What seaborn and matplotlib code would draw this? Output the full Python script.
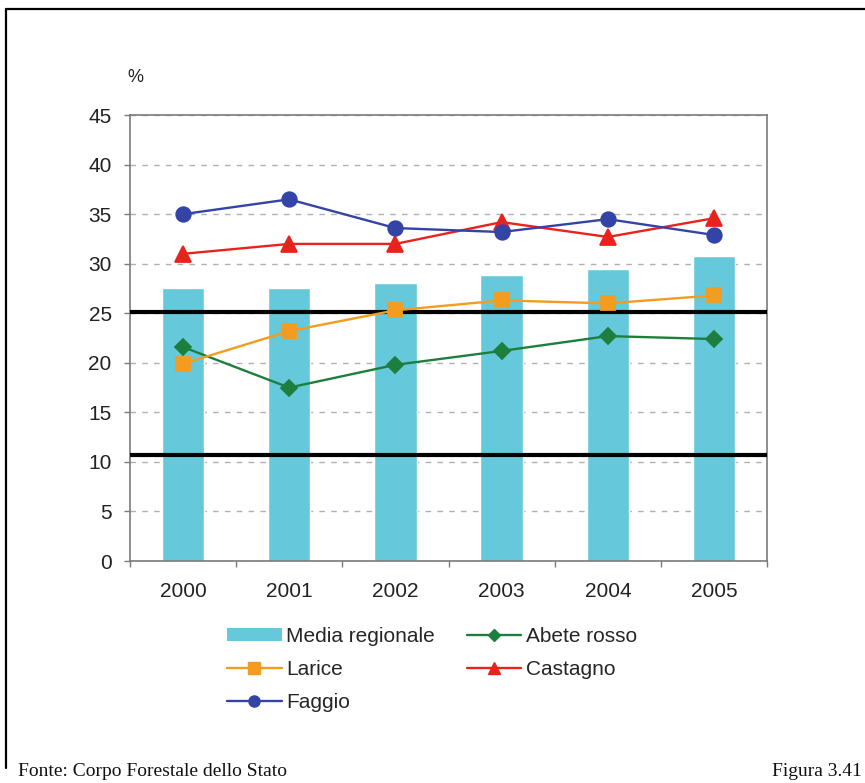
import numpy as np
import pandas as pd
import matplotlib
matplotlib.use("Agg")
import matplotlib.pyplot as plt
from matplotlib.lines import Line2D
from matplotlib.patches import Patch
import seaborn as sns

# Percentuali per anno
years = ["2000", "2001", "2002", "2003", "2004", "2005"]
media_regionale = [27.6, 27.6, 28.1, 28.9, 29.5, 30.8]
abete_rosso = [21.6, 17.5, 19.8, 21.2, 22.7, 22.4]
larice = [19.9, 23.2, 25.3, 26.3, 26.0, 26.8]
castagno = [31.0, 32.0, 32.0, 34.2, 32.7, 34.6]
faggio = [35.0, 36.5, 33.6, 33.2, 34.5, 32.9]
y_ticks = [0, 5, 10, 15, 20, 25, 30, 35, 40, 45]
soglie = [25.1, 10.7]

sns.set_style("white")
plt.rcParams["font.family"] = ["Liberation Sans", "DejaVu Sans"]

fig = plt.figure(figsize=(8.65, 7.83), dpi=100)
ax = fig.add_axes([0.150, 0.2835, 0.737, 0.5695])

df_bar = pd.DataFrame({"anno": years, "valore": media_regionale})
sns.barplot(data=df_bar, x="anno", y="valore", color="#66C9DB", saturation=1,
            width=0.4, ax=ax, zorder=2)

for yv in soglie:
    ax.axhline(yv, color="black", lw=3, zorder=3)

series = [
    ("Abete rosso", abete_rosso, "#1D7F3E", "D", 8),
    ("Larice", larice, "#F39C1F", "s", 10),
    ("Castagno", castagno, "#E8231C", "^", 11),
    ("Faggio", faggio, "#3444A6", "o", 10.5),
]
for name, vals, col, mk, ms in series:
    d = pd.DataFrame({"anno": years, "valore": vals})
    sns.pointplot(data=d, x="anno", y="valore", color=col, marker=mk,
                  markersize=ms, linewidth=1.7, errorbar=None, ax=ax, zorder=4)

ax.set_xlim(-0.5, 5.5)
ax.set_ylim(0, 45)
ax.set_yticks(y_ticks)
ax.set_yticklabels([str(v) for v in y_ticks])
ax.set_xlabel("")
ax.set_ylabel("")

ax.set_axisbelow(True)
ax.yaxis.grid(True, color="#b0b0b0", linestyle=(0, (4, 4.5)), linewidth=1.0)
ax.xaxis.grid(False)

for s in ax.spines.values():
    s.set_color("#7a7a7a")
    s.set_linewidth(1.2)
    s.set_visible(True)

ax.tick_params(axis="y", which="major", left=True, length=4, width=1,
               color="#7a7a7a", pad=9, labelsize=15, labelcolor="#222222")
ax.tick_params(axis="x", which="major", bottom=False, length=0, pad=15,
               labelsize=15, labelcolor="#222222")
ax.set_xticks(np.arange(-0.5, 6.0, 1.0), minor=True)
ax.tick_params(axis="x", which="minor", bottom=True, length=4, width=1,
               color="#7a7a7a")

fig.text(135 / 865, 1 - 77 / 783, "%", fontsize=13, color="#222222",
         ha="center", va="center")

handles = [
    Patch(facecolor="#66C9DB", edgecolor="none"),
    Line2D([], [], color="#F39C1F", marker="s", markersize=8, lw=1.7),
    Line2D([], [], color="#3444A6", marker="o", markersize=8, lw=1.7),
    Line2D([], [], color="#1D7F3E", marker="D", markersize=6.5, lw=1.7),
    Line2D([], [], color="#E8231C", marker="^", markersize=8.5, lw=1.7),
]
labels = ["Media regionale", "Larice", "Faggio", "Abete rosso", "Castagno"]
fig.legend(handles, labels, loc="upper left",
           bbox_to_anchor=(227 / 865, 1 - 627 / 783), ncol=2, frameon=False,
           fontsize=15, handlelength=2.62, handleheight=0.62, handletextpad=0.2,
           columnspacing=1.55, labelspacing=0.68, borderpad=0, borderaxespad=0)

# cornice della figura
fig.add_artist(Line2D([6 / 865, 1.0], [1 - 9 / 783, 1 - 9 / 783],
                      transform=fig.transFigure, color="black", lw=1.6))
fig.add_artist(Line2D([6 / 865, 6 / 865], [1 - 768 / 783, 1 - 9 / 783],
                      transform=fig.transFigure, color="black", lw=1.6))

fig.text(18 / 865, 1 - 772 / 783, "Fonte: Corpo Forestale dello Stato",
         family=["Liberation Serif", "DejaVu Serif"], fontsize=14,
         ha="left", va="center", color="#111111")
fig.text(862 / 865, 1 - 772 / 783, "Figura 3.41",
         family=["Liberation Serif", "DejaVu Serif"], fontsize=14,
         ha="right", va="center", color="#111111")

fig.savefig("out.png", dpi=100)
